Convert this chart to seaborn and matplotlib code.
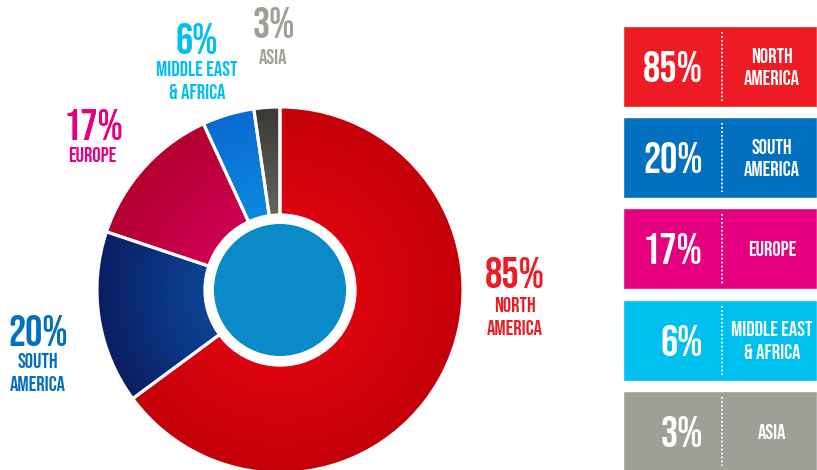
import numpy as np
import pandas as pd
import matplotlib.pyplot as plt
import seaborn as sns
from matplotlib import font_manager as fm
from matplotlib.colors import LinearSegmentedColormap

# Regional share data
regions = ["NORTH\nAMERICA", "SOUTH\nAMERICA", "EUROPE", "MIDDLE EAST\n& AFRICA", "ASIA"]
shares = [85, 20, 17, 6, 3]
box_colors = ["#ed1c24", "#0070bf", "#e4007f", "#00c0ef", "#a09f98"]
inner_colors = ["#e10510", "#0c4a9c", "#d2005a", "#0a90e2", "#6c6c66"]
outer_colors = ["#c4000a", "#0a1e64", "#b3002e", "#0a6ad2", "#3a3a34"]

# label anchor points (pixels) for the donut callouts
pct_pos = [(515, 272), (38, 330), (94, 125), (197, 38), (273.5, 22)]
name_pos = [(515, 316), (38, 372), (92, 154), (197, 80), (273.5, 56)]

sns.set_theme(style="white")

# pick a condensed face if one is installed
installed = {f.name for f in fm.fontManager.ttflist}
family, stretch = "DejaVu Sans", "normal"
for cand in ["Bebas Neue", "Oswald", "Roboto Condensed", "Liberation Sans Narrow",
             "Open Sans Condensed", "Noto Sans Condensed"]:
    if cand in installed:
        family = cand
        break
else:
    cond = [f for f in fm.fontManager.ttflist
            if f.stretch in ("condensed", "semi-condensed", "extra-condensed")]
    if cond:
        family, stretch = cond[0].name, "condensed"
plt.rcParams["font.family"] = [family, "DejaVu Sans"]
plt.rcParams["font.stretch"] = stretch

fig = plt.figure(figsize=(8.17, 4.70), dpi=100)
renderer = fig.canvas.get_renderer()


def size_for(text, width_px, weight="normal", base=20):
    t = fig.text(0, 0, text, fontsize=base, fontweight=weight)
    w = t.get_window_extent(renderer).width
    t.remove()
    return base * width_px / w


pct_size = min(33, size_for("85%", 60, weight="bold"))
name_size = min(15, size_for("MIDDLE EAST", 81, weight="light"))

# Donut chart with radial gradient slices
ax_pie = fig.add_axes([97 / 817, -3 / 470, 366 / 817, 366 / 470])
wedges, _ = ax_pie.pie(shares, startangle=90, counterclock=False, radius=1,
                       colors=["none"] * len(shares),
                       wedgeprops=dict(edgecolor="white", linewidth=2.2))
yy, xx = np.mgrid[-1:1:400j, -1:1:400j]
rr = np.hypot(xx, yy)
for w, c_in, c_out in zip(wedges, inner_colors, outer_colors):
    cmap = LinearSegmentedColormap.from_list("grad", [c_in, c_out])
    im = ax_pie.imshow(rr, cmap=cmap, vmin=0.3, vmax=1, extent=(-1, 1, -1, 1),
                       origin="lower", zorder=0)
    im.set_clip_path(w)
    w.set_zorder(1)
ax_pie.add_patch(plt.Circle((0, 0), 0.415, color="white", zorder=2))
ax_pie.add_patch(plt.Circle((0, 0), 0.357, color="#0a8ac8", zorder=3))
ax_pie.set_xlim(-1, 1)
ax_pie.set_ylim(-1, 1)
ax_pie.axis("off")

# Callout labels around the donut
ax_txt = fig.add_axes([0, 0, 1, 1], zorder=5)
ax_txt.set_xlim(0, 817)
ax_txt.set_ylim(470, 0)
ax_txt.axis("off")
for v, name, c, (px, py), (nx, ny) in zip(shares, regions, box_colors, pct_pos, name_pos):
    ax_txt.text(px, py, f"{v}%", ha="center", va="center", color=c,
                fontsize=pct_size, fontweight="bold")
    ax_txt.text(nx, ny, name, ha="center", va="center", color=c,
                fontsize=name_size, fontweight="light", linespacing=1.5)

# Legend boxes on the right
box_df = pd.DataFrame({"region": regions, "share": shares, "box": 1})
ax_box = fig.add_axes([623 / 817, 1 - 477 / 470, 194 / 817, 456.1 / 470])
sns.barplot(data=box_df, x="box", y="region", hue="region", palette=box_colors,
            orient="h", width=0.888, saturation=1, legend=False, ax=ax_box)
ax_box.set_xlim(0, 1)
ax_box.set_ylim(4.5, -0.5)
ax_box.axis("off")
for i, (v, name) in enumerate(zip(shares, regions)):
    ax_box.text(0.412, i, f"{v}%", ha="right", va="center", color="white",
                fontsize=pct_size, fontweight="bold")
    ax_box.vlines(0.51, i - 0.38, i + 0.38, colors="white",
                  linestyles=(0, (1, 1.2)), linewidth=1.3)
    ax_box.text(0.768, i, name, ha="center", va="center", color="white",
                fontsize=name_size, fontweight="light", linespacing=1.5)

fig.savefig("out.png", dpi=100)
